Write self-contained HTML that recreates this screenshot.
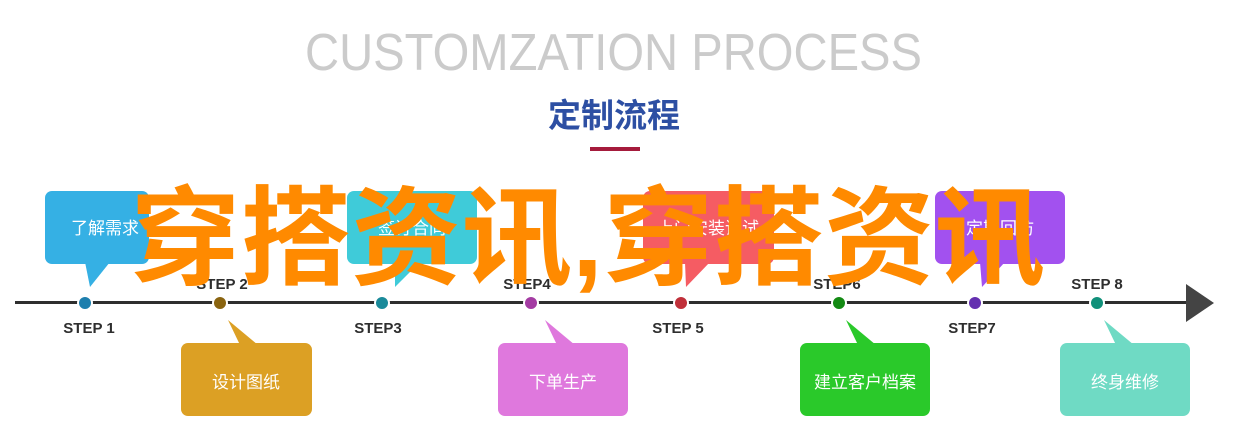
<!DOCTYPE html>
<html><head><meta charset="utf-8"><style>
html,body{margin:0;padding:0;background:#fff;width:1246px;height:442px;overflow:hidden}
</style></head><body>
<svg width="1246" height="442" xmlns="http://www.w3.org/2000/svg" font-family="'Liberation Sans','Noto Sans CJK SC',sans-serif">
<text x="305" y="70" font-size="52" fill="#cbcbcb" textLength="617" lengthAdjust="spacingAndGlyphs">CUSTOMZATION PROCESS</text>
<text x="614" y="127" font-size="33" font-weight="bold" fill="#2d4fa3" text-anchor="middle">定制流程</text>
<rect x="590" y="147" width="50" height="4" fill="#a51b3c"/>
<!-- top boxes -->
<g>
<rect x="45" y="191" width="104" height="73" rx="7" fill="#35b0e4"/><polygon points="85,262 110,262 90,287" fill="#35b0e4"/>
<text x="105" y="234" font-size="17" fill="#fff" text-anchor="middle">了解需求</text>
<rect x="347" y="191" width="130" height="73" rx="7" fill="#3fcbd9"/><polygon points="395,262 420,262 395,287" fill="#3fcbd9"/>
<text x="412" y="234" font-size="17" fill="#fff" text-anchor="middle">签订合同</text>
<rect x="643" y="191" width="131" height="73" rx="7" fill="#f55c63"/><polygon points="685,262 710,262 686,287" fill="#f55c63"/>
<text x="708" y="234" font-size="17" fill="#fff" text-anchor="middle">上门安装调试</text>
<rect x="935" y="191" width="130" height="73" rx="7" fill="#a251ef"/><polygon points="980,262 1005,262 982,287" fill="#a251ef"/>
<text x="1000" y="234" font-size="17" fill="#fff" text-anchor="middle">定期回访</text>
</g>
<!-- bottom boxes -->
<g>
<polygon points="228,320 258,345 240,345" fill="#dca024"/><rect x="181" y="343" width="131" height="73" rx="7" fill="#dca024"/>
<text x="246" y="388" font-size="17" fill="#fff" text-anchor="middle">设计图纸</text>
<polygon points="545,320 575,345 557,345" fill="#df78dd"/><rect x="498" y="343" width="130" height="73" rx="7" fill="#df78dd"/>
<text x="563" y="388" font-size="17" fill="#fff" text-anchor="middle">下单生产</text>
<polygon points="846,320 876,345 858,345" fill="#2ac92a"/><rect x="800" y="343" width="130" height="73" rx="7" fill="#2ac92a"/>
<text x="865" y="388" font-size="17" fill="#fff" text-anchor="middle">建立客户档案</text>
<polygon points="1104,320 1134,345 1116,345" fill="#6fdac4"/><rect x="1060" y="343" width="130" height="73" rx="7" fill="#6fdac4"/>
<text x="1125" y="388" font-size="17" fill="#fff" text-anchor="middle">终身维修</text>
</g>
<!-- timeline -->
<rect x="15" y="301" width="1180" height="3" fill="#2e2e2e"/>
<polygon points="1186,284 1214,303 1186,322" fill="#444"/>
<g stroke="#fff" stroke-width="2">
<circle cx="85" cy="303" r="7" fill="#1e7fae"/>
<circle cx="220" cy="303" r="7" fill="#8a6410"/>
<circle cx="382" cy="303" r="7" fill="#1a8a9a"/>
<circle cx="531" cy="303" r="7" fill="#a43ca3"/>
<circle cx="681" cy="303" r="7" fill="#c0303a"/>
<circle cx="839" cy="303" r="7" fill="#138a13"/>
<circle cx="975" cy="303" r="7" fill="#6430b0"/>
<circle cx="1097" cy="303" r="7" fill="#10907a"/>
</g>
<g font-size="15" font-weight="bold" fill="#2e2e2e" text-anchor="middle">
<text x="89" y="333">STEP 1</text>
<text x="222" y="289">STEP 2</text>
<text x="378" y="333">STEP3</text>
<text x="527" y="289">STEP4</text>
<text x="678" y="333">STEP 5</text>
<text x="837" y="289">STEP6</text>
<text x="972" y="333">STEP7</text>
<text x="1097" y="289">STEP 8</text>
</g>
<text x="130" y="276" font-size="108" font-weight="bold" fill="#ff8a00" textLength="915" lengthAdjust="spacingAndGlyphs">穿搭资讯,穿搭资讯</text>
</svg>
</body></html>
